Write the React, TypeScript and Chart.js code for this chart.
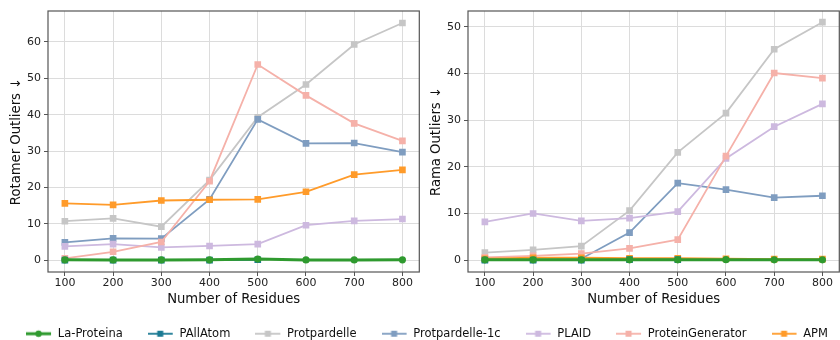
import React, { useEffect, useRef } from 'react';
import { Chart, registerables } from 'chart.js';
Chart.register(...registerables);

const residues = [100, 200, 300, 400, 500, 600, 700, 800];
const seriesNames = ['La-Proteina', 'PAllAtom', 'Protpardelle', 'Protpardelle-1c', 'PLAID', 'ProteinGenerator', 'APM'];
const seriesColors = ['#2f9a2f', '#1b7a93', '#c6c6c6', '#7f9dc0', '#cdb9df', '#f5b1a9', '#ff9b2a'];

// Rotamer outliers
const rotLaProteina = [0.1, 0.05, 0.05, 0.1, 0.3, 0.05, 0.05, 0.1];
const rotPAllAtom = [0, 0, 0, 0, 0.1, null, null, null];
const rotProtpardelle = [10.7, 11.5, 9.2, 22.0, 39.3, 48.3, 59.3, 65.2];
const rotProtpardelle1c = [4.9, 6.0, 5.9, 16.7, 38.7, 32.1, 32.2, 29.7];
const rotPLAID = [3.8, 4.4, 3.5, 3.9, 4.4, 9.6, 10.8, 11.3];
const rotProteinGenerator = [0.5, 2.3, 5.0, 21.7, 53.8, 45.3, 37.6, 32.8];
const rotAPM = [15.6, 15.2, 16.4, 16.6, 16.7, 18.8, 23.5, 24.8];

// Rama outliers
const ramaLaProteina = [0.05, 0.05, 0.05, 0.05, 0.05, 0.1, 0.05, 0.05];
const ramaPAllAtom = [0, 0, 0, 0.1, 0.1, null, null, null];
const ramaProtpardelle = [1.6, 2.2, 3.0, 10.6, 23.1, 31.5, 45.2, 51.0];
const ramaProtpardelle1c = [0.1, 0.1, 0.3, 5.9, 16.5, 15.1, 13.4, 13.8];
const ramaPLAID = [8.2, 10.0, 8.4, 9.0, 10.4, 21.8, 28.6, 33.5];
const ramaProteinGenerator = [0.6, 0.9, 1.4, 2.5, 4.4, 22.3, 40.1, 39.0];
const ramaAPM = [0.3, 0.5, 0.5, 0.4, 0.4, 0.3, 0.2, 0.2];

const rotTicks = [0, 10, 20, 30, 40, 50, 60];
const ramaTicks = [0, 10, 20, 30, 40, 50];

const FONT = "'DejaVu Sans', sans-serif";

const framePlugin = {
  id: 'frame',
  afterDatasetsDraw(chart: any) {
    const { ctx, chartArea: a } = chart;
    ctx.save();
    ctx.strokeStyle = '#555555';
    ctx.lineWidth = 1.2;
    ctx.strokeRect(a.left, a.top, a.right - a.left, a.bottom - a.top);
    ctx.restore();
  },
};

function makeDatasets(values: (number | null)[][]) {
  return values.map((data, i) => {
    const isLa = i === 0;
    return {
      label: seriesNames[i],
      data: residues.map((x, j) => (data[j] === null ? null : { x, y: data[j] })).filter((p) => p !== null),
      borderColor: seriesColors[i],
      backgroundColor: seriesColors[i],
      borderWidth: isLa ? 3 : 1.8,
      pointStyle: isLa ? 'circle' : 'rect',
      pointRadius: isLa ? 3.6 : 4.7,
      pointBorderWidth: 0,
      pointBackgroundColor: seriesColors[i],
      tension: 0,
      order: isLa ? 0 : i === 1 ? 1 : 10 - i,
    };
  });
}

function lineChartConfig(values: (number | null)[][], title: string, ymin: number, ymax: number, yticks: number[]) {
  return {
    type: 'line' as const,
    data: { datasets: makeDatasets(values) },
    plugins: [framePlugin],
    options: {
      responsive: false,
      animation: false,
      devicePixelRatio: 1,
      layout: { padding: { top: 11, right: 0, bottom: 0, left: 0 } },
      plugins: { legend: { display: false }, tooltip: { enabled: false } },
      scales: {
        x: {
          type: 'linear',
          min: 65,
          max: 835,
          afterBuildTicks: (s: any) => { s.ticks = residues.map((v) => ({ value: v })); },
          afterFit: (s: any) => { s.height = 38; },
          grid: { color: '#dcdcdc', lineWidth: 1, tickColor: '#555555', tickLength: 4, drawTicks: true },
          border: { display: false },
          ticks: { color: '#222', font: { family: FONT, size: 11 }, padding: 1, maxRotation: 0, autoSkip: false },
          title: { display: true, text: 'Number of Residues', color: '#111', font: { family: FONT, size: 13.2 }, padding: { top: 0, bottom: 3 } },
        },
        y: {
          type: 'linear',
          min: ymin,
          max: ymax,
          afterBuildTicks: (s: any) => { s.ticks = yticks.map((v) => ({ value: v })); },
          afterFit: (s: any) => { s.width = 48; },
          grid: { color: '#dcdcdc', lineWidth: 1, tickColor: '#555555', tickLength: 4, drawTicks: true },
          border: { display: false },
          ticks: { color: '#222', font: { family: FONT, size: 11 }, padding: 3 },
          title: { display: true, text: title, color: '#111', font: { family: FONT, size: 13.2 }, padding: { top: 9, bottom: 0 } },
        },
      },
    },
  };
}

function legendMarker(color: string, isLa: boolean) {
  const c = document.createElement('canvas');
  c.width = 26;
  c.height = 10;
  const ctx = c.getContext('2d')!;
  ctx.strokeStyle = color;
  ctx.fillStyle = color;
  ctx.lineWidth = isLa ? 3 : 1.8;
  ctx.beginPath();
  ctx.moveTo(0, 5);
  ctx.lineTo(25, 5);
  ctx.stroke();
  if (isLa) {
    ctx.beginPath();
    ctx.arc(12.5, 5, 3.2, 0, Math.PI * 2);
    ctx.fill();
  } else {
    ctx.fillRect(9.5, 2, 6, 6);
  }
  return c;
}

function legendConfig() {
  return {
    type: 'line' as const,
    data: {
      labels: ['a'],
      datasets: seriesNames.map((name, i) => ({
        label: name,
        data: [null],
        borderColor: seriesColors[i],
        backgroundColor: seriesColors[i],
      })),
    },
    options: {
      responsive: false,
      animation: false,
      devicePixelRatio: 1,
      layout: { padding: 0 },
      scales: { x: { display: false }, y: { display: false } },
      plugins: {
        tooltip: { enabled: false },
        legend: {
          display: true,
          position: 'top',
          align: 'center',
          onClick: () => {},
          labels: {
            usePointStyle: true,
            pointStyleWidth: 26,
            boxHeight: 10,
            padding: 25,
            color: '#111',
            font: { family: FONT, size: 11.5 },
            generateLabels: () =>
              seriesNames.map((name, i) => ({
                text: name,
                datasetIndex: i,
                pointStyle: legendMarker(seriesColors[i], i === 0),
                fillStyle: seriesColors[i],
                strokeStyle: seriesColors[i],
                lineWidth: 0,
                hidden: false,
                fontColor: '#111',
              })),
          },
        },
      },
    },
  };
}

function ChartCanvas({ config, width, height, style }: any) {
  const ref = useRef<HTMLCanvasElement | null>(null);
  useEffect(() => {
    if (!ref.current) return;
    const chart = new Chart(ref.current, config() as any);
    return () => chart.destroy();
  }, []);
  return <canvas ref={ref} width={width} height={height} style={{ position: 'absolute', width, height, ...style }} />;
}

export default function App() {
  return (
    <div style={{ position: 'fixed', left: 0, top: 0, width: 840, height: 340, overflow: 'hidden', background: '#fff' }}>
      <ChartCanvas
        width={424}
        height={310}
        style={{ left: 0, top: 0 }}
        config={() => lineChartConfig([rotLaProteina, rotPAllAtom, rotProtpardelle, rotProtpardelle1c, rotPLAID, rotProteinGenerator, rotAPM], 'Rotamer Outliers ↓', -3.26, 68.5, rotTicks)}
      />
      <ChartCanvas
        width={424}
        height={310}
        style={{ left: 420, top: 0 }}
        config={() => lineChartConfig([ramaLaProteina, ramaPAllAtom, ramaProtpardelle, ramaProtpardelle1c, ramaPLAID, ramaProteinGenerator, ramaAPM], 'Rama Outliers ↓', -2.55, 53.4, ramaTicks)}
      />
      <ChartCanvas width={900} height={120} style={{ left: -23, top: 303 }} config={legendConfig} />
    </div>
  );
}
